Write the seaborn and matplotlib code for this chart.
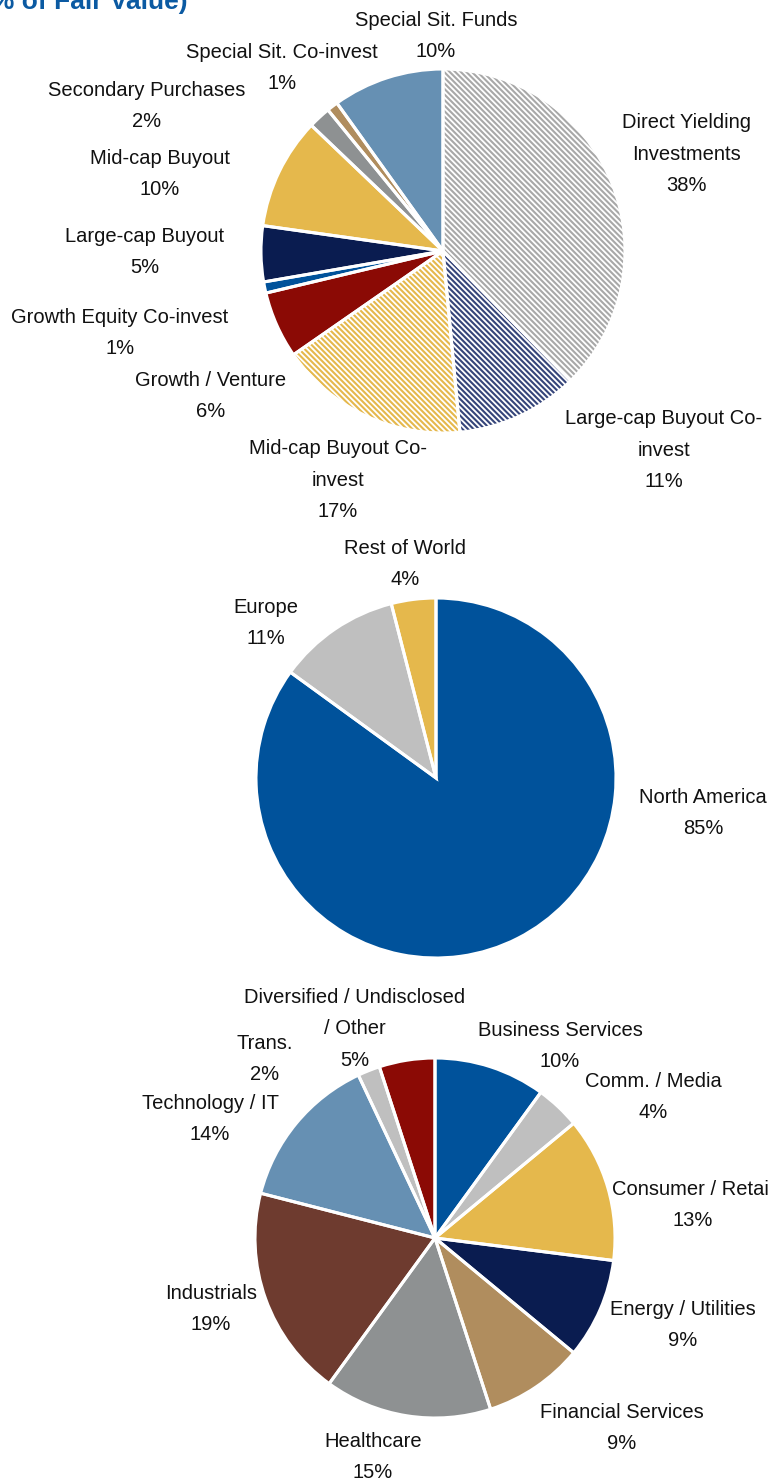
import matplotlib
matplotlib.use("Agg")
import matplotlib.pyplot as plt
import seaborn as sns

sns.set_theme(style="white")
plt.rcParams['font.family'] = ['Liberation Sans Narrow', 'Liberation Sans', 'DejaVu Sans']
plt.rcParams['hatch.linewidth'] = 1.5

W, H = 768, 1481

# ---------------- data ----------------
strat_labels = ["Direct Yielding\nInvestments", "Large-cap Buyout Co-\ninvest", "Mid-cap Buyout Co-\ninvest",
                "Growth / Venture", "Growth Equity Co-invest", "Large-cap Buyout", "Mid-cap Buyout",
                "Secondary Purchases", "Special Sit. Co-invest", "Special Sit. Funds"]
strat_values = [38, 11, 17, 6, 1, 5, 10, 2, 1, 10]

geo_labels = ["North America", "Europe", "Rest of World"]
geo_values = [85, 11, 4]

ind_labels = ["Business Services", "Comm. / Media", "Consumer / Retail", "Energy / Utilities",
              "Financial Services", "Healthcare", "Industrials", "Technology / IT", "Trans.",
              "Diversified / Undisclosed\n/ Other"]
ind_values = [10, 4, 13, 9, 9, 15, 19, 14, 2, 5]

# ---------------- styles / layout ----------------
strat_colors = ["#A8A8A8", "#35457A", "#E5B84C", "#8B0A05", "#00529B", "#0A1C50",
                "#E5B84C", "#8E9192", "#B08D5E", "#6690B3"]
strat_hatched = [True, True, True, False, False, False, False, False, False, False]
geo_colors = ["#00529B", "#BFBFBF", "#E5B84C"]
ind_colors = ["#00529B", "#BFBFBF", "#E5B84C", "#0A1C50", "#B08D5E", "#8E9192",
              "#6E3B2F", "#6690B3", "#BFBFBF", "#8B0A05"]

# label centres in pixel coordinates (x, y from top)
strat_label_pos = [(686, 154), (664, 450), (338, 480), (211, 396), (120, 333), (145, 252),
                   (160, 174), (147, 106), (282, 68), (436, 36)]
geo_label_pos = [(703, 813), (266, 623), (405, 564)]
ind_label_pos = [(560, 1046), (653, 1097), (693, 1205), (683, 1325), (622, 1428),
                 (373, 1457), (211, 1309), (210, 1119), (265, 1059), (355, 1029)]

fig = plt.figure(figsize=(W / 100, H / 100), dpi=100)
ax = fig.add_axes([0, 0, 1, 1])


def draw_pie(values, labels, colors, center, radius, label_pos, hatched=None):
    cx, cy = center
    c = (cx, H - cy)
    wedges, _ = ax.pie(values, colors=colors, startangle=90, counterclock=False,
                       center=c, radius=radius, frame=True,
                       wedgeprops=dict(linewidth=0))
    if hatched:
        for w, col, h in zip(wedges, colors, hatched):
            if h:
                w.set_facecolor("white")
                w.set_edgecolor(col)
                w.set_hatch("\\" * 6)
                w.set_linewidth(0)
    ax.pie(values, colors=["none"] * len(values), startangle=90, counterclock=False,
           center=c, radius=radius, frame=True,
           wedgeprops=dict(linewidth=2.2, edgecolor="white", facecolor="none"))
    total = sum(values)
    for lab, v, (lx, ly) in zip(labels, values, label_pos):
        ax.text(lx, H - ly, f"{lab}\n{round(100 * v / total)}%", ha="center", va="center",
                fontsize=14.5, color="#111111", linespacing=1.85)


draw_pie(strat_values, strat_labels, strat_colors, (443, 251), 182, strat_label_pos, strat_hatched)
draw_pie(geo_values, geo_labels, geo_colors, (436, 778), 180, geo_label_pos)
draw_pie(ind_values, ind_labels, ind_colors, (435, 1238), 180, ind_label_pos)

ax.set_xlim(0, W)
ax.set_ylim(0, H)
ax.set_aspect("equal")
ax.axis("off")

fig.text(188 / W, 1 - 9 / H, "(% of Fair Value)", ha="right", va="baseline",
         fontsize=19, fontweight="bold", color="#0B5AA2",
         family=['Liberation Sans', 'DejaVu Sans'])

fig.savefig("out.png", dpi=100)
